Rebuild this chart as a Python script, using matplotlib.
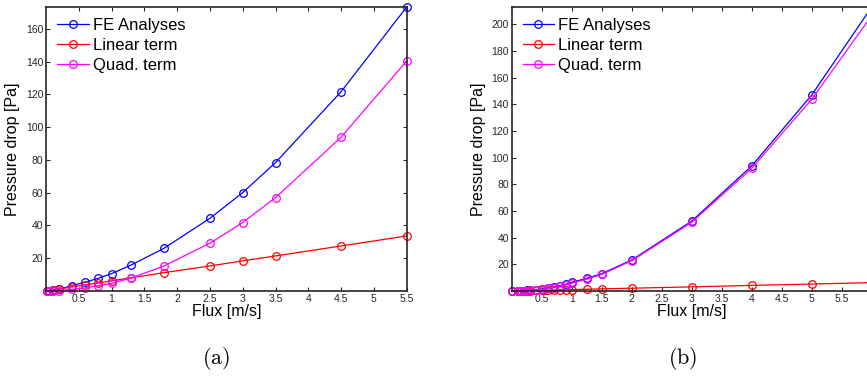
import matplotlib
matplotlib.use("Agg")
import matplotlib.pyplot as plt

# (a) data
x_a = [0.01, 0.05, 0.1, 0.2, 0.4, 0.6, 0.8, 1.0, 1.3, 1.8, 2.5, 3.0, 3.5, 4.5, 5.5]
fe_a = [0.05, 0.25, 0.5, 1.1, 3.3, 5.4, 7.8, 10.6, 15.9, 26.1, 44.4, 60.1, 78.4, 121.7, 173.4]
lin_a = [0.06, 0.3, 0.6, 1.2, 2.5, 3.7, 4.9, 6.2, 8.1, 11.2, 15.3, 18.4, 21.4, 27.5, 33.6]
quad_a = [0.0, 0.05, 0.1, 0.3, 1.1, 1.9, 3.3, 4.7, 7.9, 15.3, 29.2, 41.8, 57.0, 93.9, 140.5]

# (b) data
x_b = [0.01, 0.1, 0.15, 0.2, 0.25, 0.3, 0.4, 0.5, 0.6, 0.7, 0.8, 0.9, 1.0,
       1.25, 1.5, 2.0, 3.0, 4.0, 5.0, 6.0]
fe_b = [0.0, 0.1, 0.2, 0.35, 0.5, 0.7, 1.1, 1.6, 2.3, 3.0, 4.0, 5.0, 6.5,
        9.5, 13.0, 23.2, 52.4, 93.8, 147.0, 213.0]
lin_b = [0.01, 0.1, 0.15, 0.2, 0.26, 0.31, 0.42, 0.52, 0.62, 0.73, 0.83, 0.94, 1.05,
         1.3, 1.6, 2.1, 3.1, 4.2, 5.2, 6.3]
quad_b = [0.0, 0.05, 0.1, 0.2, 0.3, 0.5, 0.8, 1.3, 1.9, 2.6, 3.5, 4.5, 5.8,
          8.9, 12.5, 22.7, 51.5, 92.0, 143.8, 206.5]

labels = ["FE Analyses", "Linear term", "Quad. term"]
colors = ["#0000ff", "#ff0000", "#ff00ff"]

plt.rcParams["font.family"] = ["Liberation Sans", "DejaVu Sans"]
plt.rcParams["mathtext.fontset"] = "cm"

fig = plt.figure(figsize=(8.67, 3.78), dpi=100)
W, H = 867, 378


def make_axes(left_px, width_px, xs, series, xmax, ymax, yticks):
    ax = fig.add_axes([left_px / W, 1 - 291 / H, width_px / W, 284 / H])
    for ys, c, lab in zip(series, colors, labels):
        ax.plot(xs, ys, color=c, lw=0.9, marker="o", ms=5.5, mfc="none",
                mew=0.9, label=lab, clip_on=False)
    ax.set_xlim(0, xmax)
    ax.set_ylim(0, ymax)
    ax.set_xticks([0.5, 1, 1.5, 2, 2.5, 3, 3.5, 4, 4.5, 5, 5.5])
    ax.set_xticklabels(["0.5", "1", "1.5", "2", "2.5", "3", "3.5", "4", "4.5", "5", "5.5"])
    ax.set_yticks(yticks)
    ax.tick_params(direction="in", top=True, right=True, labelsize=7.5,
                   length=3, width=0.8, pad=2, colors="#262626")
    for s in ax.spines.values():
        s.set_linewidth(1.2)
        s.set_color("#262626")
    ax.set_xlabel("Flux [m/s]", fontsize=11.5, labelpad=0)
    ax.set_ylabel("Pressure drop [Pa]", fontsize=11.5, labelpad=4)
    ax.legend(loc="upper left", frameon=False, fontsize=12, handlelength=1.9,
              handletextpad=0.25, labelspacing=0.3, borderaxespad=0.35,
              borderpad=0.3)
    return ax


ax1 = make_axes(46, 360.7, x_a, [fe_a, lin_a, quad_a], 5.5, 173.4,
                [20, 40, 60, 80, 100, 120, 140, 160])
ax2 = make_axes(511.7, 360, x_b, [fe_b, lin_b, quad_b], 6.0, 213.0,
                [20, 40, 60, 80, 100, 120, 140, 160, 180, 200])

fig.text(216 / W, 1 - 358 / H, r"$\mathrm{(a)}$", fontsize=16, ha="center", va="center")
fig.text(683 / W, 1 - 358 / H, r"$\mathrm{(b)}$", fontsize=16, ha="center", va="center")

fig.savefig("out.png", dpi=100)
